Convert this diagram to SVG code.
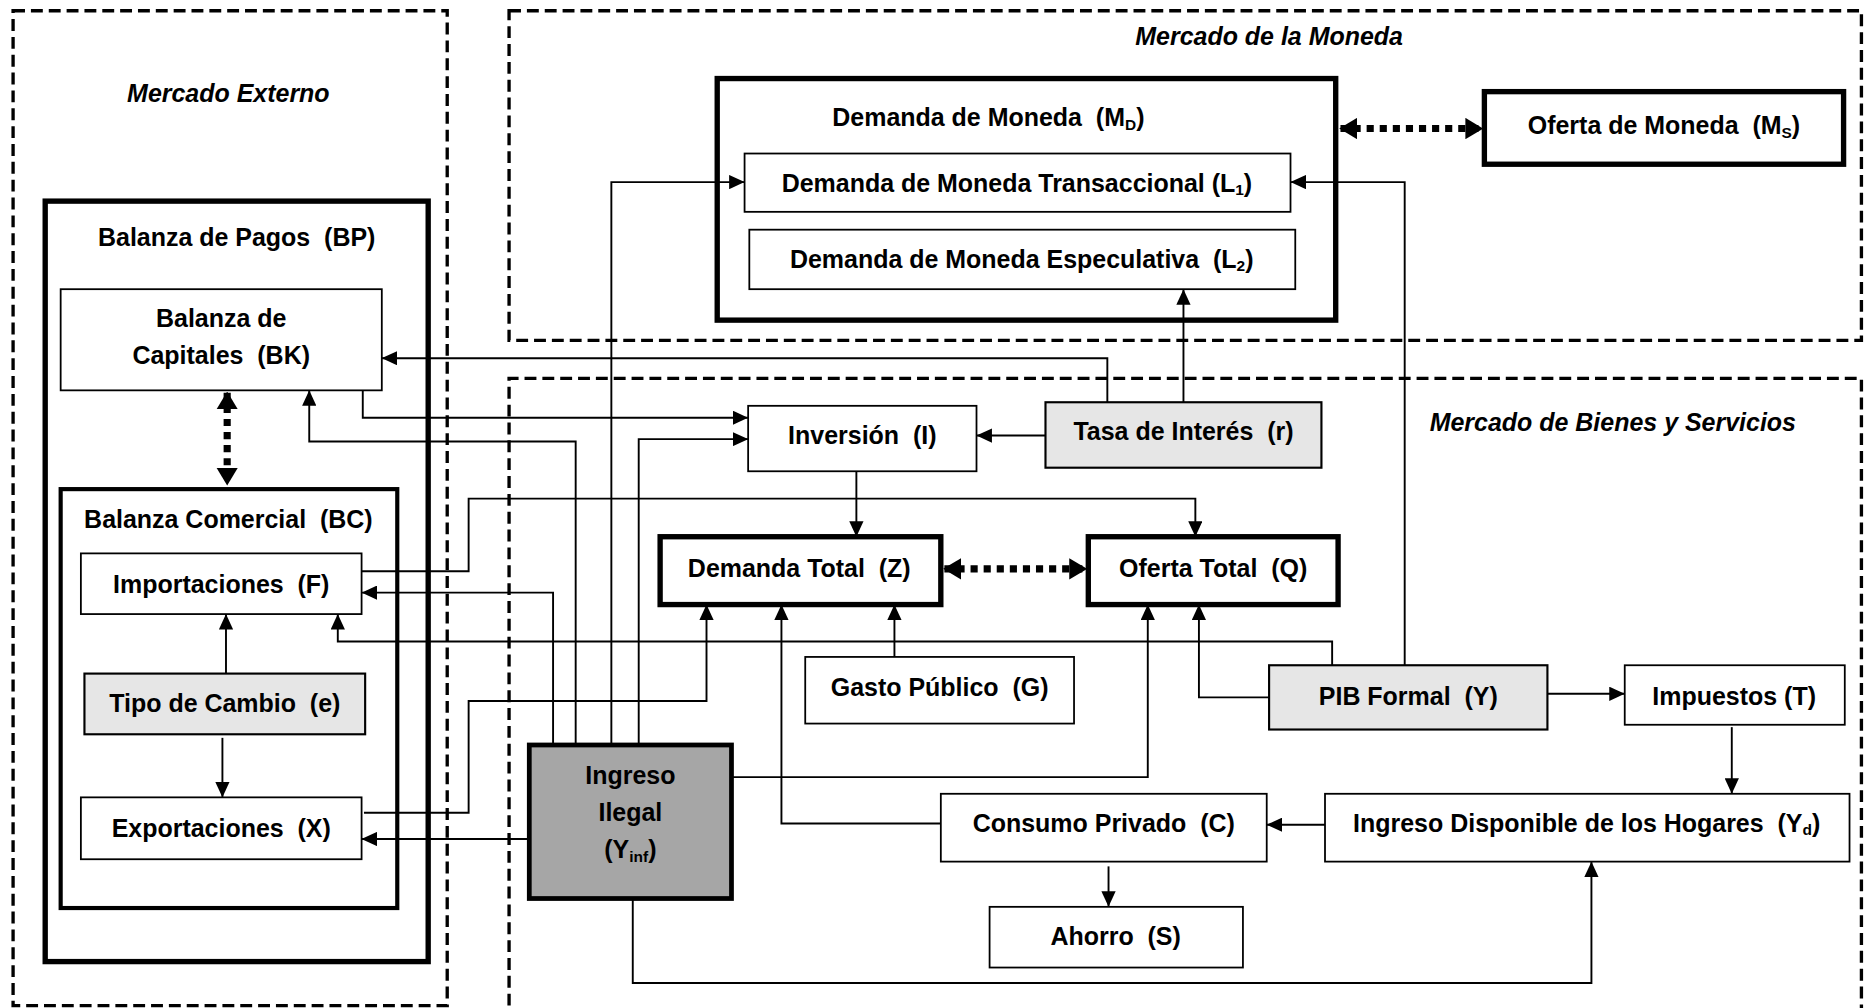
<svg xmlns="http://www.w3.org/2000/svg" width="1865" height="1008" viewBox="0 0 1865 1008">
<style>
text{font-family:"Liberation Sans",Arial,sans-serif;font-weight:bold;font-size:21px;fill:#000;text-anchor:middle;white-space:pre}
.ttl{font-style:italic;font-size:21px}
.sub{font-size:13px}
.zone{fill:none;stroke:#000;stroke-width:2.8;stroke-dasharray:10,5}
.thin{fill:#fff;stroke:#000;stroke-width:1.5}
.thick{fill:#fff;stroke:#000;stroke-width:4.5}
.mid{fill:#fff;stroke:#000;stroke-width:3.5}
.grey{fill:#e6e6e6;stroke:#000;stroke-width:1.8}
.dark{fill:#a6a6a6;stroke:#000;stroke-width:4}
.con{fill:none;stroke:#000;stroke-width:1.6;marker-end:url(#ah)}
.dot{fill:none;stroke:#000;stroke-width:6;stroke-dasharray:6,5;marker-start:url(#dh);marker-end:url(#dh)}
</style>
<defs>
<marker id="ah" markerUnits="userSpaceOnUse" markerWidth="13" markerHeight="12" viewBox="0 0 13 12" refX="13" refY="6" orient="auto"><path d="M0,0 L13,6 L0,12 z" fill="#000"/></marker>
<marker id="dh" markerUnits="userSpaceOnUse" markerWidth="15" markerHeight="18" viewBox="0 0 15 18" refX="14" refY="9" orient="auto-start-reverse"><path d="M0,0 L15,9 L0,18 z" fill="#000"/></marker>
</defs>
<rect width="1865" height="1008" fill="#fff"/>
<g transform="scale(1.18941,1.19008)">
<g id="zones">
<rect class="zone" x="11" y="9" width="365" height="836"/>
<text class="ttl" x="192" y="86">Mercado Externo</text>
<rect class="zone" x="428" y="9" width="1137" height="277"/>
<text class="ttl" x="1067" y="38">Mercado de la Moneda</text>
<path class="zone" d="M428,860 V318 H1565 V860"/>
<text class="ttl" x="1356" y="362">Mercado de Bienes y Servicios</text>
</g>
<g id="BP"><rect class="thick" x="38" y="169" width="322" height="639"/><text x="199" y="207">Balanza de Pagos  (BP)</text></g>
<g id="BK"><rect class="thin" x="51" y="243" width="270" height="85"/><text x="186" y="275">Balanza de</text><text x="186" y="306">Capitales  (BK)</text></g>
<g id="BC"><rect class="mid" x="51" y="411" width="283" height="352"/><text x="192" y="444">Balanza Comercial  (BC)</text></g>
<g id="F"><rect class="thin" x="68" y="465" width="236" height="51"/><text x="186" y="498">Importaciones  (F)</text></g>
<g id="e"><rect class="grey" x="71" y="566" width="236" height="51"/><text x="189" y="598">Tipo de Cambio  (e)</text></g>
<g id="X"><rect class="thin" x="68" y="670" width="236" height="52"/><text x="186" y="703">Exportaciones  (X)</text></g>
<g id="MD"><rect class="thick" x="603" y="66" width="520" height="203"/><text x="831" y="106">Demanda de Moneda  (M<tspan class="sub" dy="3">D</tspan><tspan dy="-3">)</tspan></text></g>
<g id="L1"><rect class="thin" x="626" y="129" width="459" height="49"/><text x="855" y="161">Demanda de Moneda Transaccional (L<tspan class="sub" dy="3">1</tspan><tspan dy="-3">)</tspan></text></g>
<g id="L2"><rect class="thin" x="630" y="193" width="459" height="50"/><text x="859" y="225">Demanda de Moneda Especulativa  (L<tspan class="sub" dy="3">2</tspan><tspan dy="-3">)</tspan></text></g>
<g id="MS"><rect class="thick" x="1248" y="77" width="302" height="61"/><text x="1399" y="113">Oferta de Moneda  (M<tspan class="sub" dy="3">S</tspan><tspan dy="-3">)</tspan></text></g>
<g id="I"><rect class="thin" x="629" y="341" width="192" height="55"/><text x="725" y="373">Inversión  (I)</text></g>
<g id="r"><rect class="grey" x="879" y="338" width="232" height="55"/><text x="995" y="370">Tasa de Interés  (r)</text></g>
<g id="Z"><rect class="thick" x="555" y="451" width="236" height="57"/><text x="672" y="485">Demanda Total  (Z)</text></g>
<g id="Q"><rect class="thick" x="915" y="451" width="210" height="57"/><text x="1020" y="485">Oferta Total  (Q)</text></g>
<g id="G"><rect class="thin" x="677" y="552" width="226" height="56"/><text x="790" y="585">Gasto Público  (G)</text></g>
<g id="Y"><rect class="grey" x="1067" y="559" width="234" height="54"/><text x="1184" y="592">PIB Formal  (Y)</text></g>
<g id="T"><rect class="thin" x="1366" y="559" width="185" height="50"/><text x="1458" y="592">Impuestos (T)</text></g>
<g id="Yinf"><rect class="dark" x="445" y="626" width="170" height="129"/><text x="530" y="659">Ingreso</text><text x="530" y="690">Ilegal</text><text x="530" y="721">(Y<tspan class="sub" dy="3">inf</tspan><tspan dy="-3">)</tspan></text></g>
<g id="C"><rect class="thin" x="791" y="667" width="274" height="57"/><text x="928" y="699">Consumo Privado  (C)</text></g>
<g id="Yd"><rect class="thin" x="1114" y="667" width="441" height="57"/><text x="1334" y="699">Ingreso Disponible de los Hogares  (Y<tspan class="sub" dy="3">d</tspan><tspan dy="-3">)</tspan></text></g>
<g id="S"><rect class="thin" x="832" y="762" width="213" height="51"/><text x="938" y="794">Ahorro  (S)</text></g>
<g id="connectors">
<path class="con" d="M190,566 V516"/>
<path class="con" d="M187,620 V670"/>
<path class="con" d="M931,338 V301 H321"/>
<path class="con" d="M305,328 V351 H629"/>
<path class="con" d="M484,626 V371 H260 V328"/>
<path class="con" d="M514,626 V153 H626"/>
<path class="con" d="M537,626 V369 H629"/>
<path class="con" d="M465,626 V498 H304"/>
<path class="con" d="M304,480 H394 V419 H1005 V451"/>
<path class="con" d="M720,396 V451"/>
<path class="con" d="M879,366 H821"/>
<path class="con" d="M995,338 V243"/>
<path class="con" d="M1181,559 V153 H1085"/>
<path class="con" d="M1120,559 V539 H284 V516"/>
<path class="con" d="M1067,586 H1008 V508"/>
<path class="con" d="M615,653 H965 V508"/>
<path class="con" d="M306,683 H394 V589 H594 V508"/>
<path class="con" d="M445,705 H304"/>
<path class="con" d="M791,692 H657 V508"/>
<path class="con" d="M752,552 V508"/>
<path class="con" d="M1301,583 H1366"/>
<path class="con" d="M1456,611 V667"/>
<path class="con" d="M1114,693 H1065"/>
<path class="con" d="M932,728 V762"/>
<path class="con" d="M532,755 V826 H1338 V724"/>
<path class="dot" d="M191,330 V407"/>
<path class="dot" d="M1127,108 H1246"/>
<path class="dot" d="M794,478 H913"/>
</g>
</g>
</svg>
